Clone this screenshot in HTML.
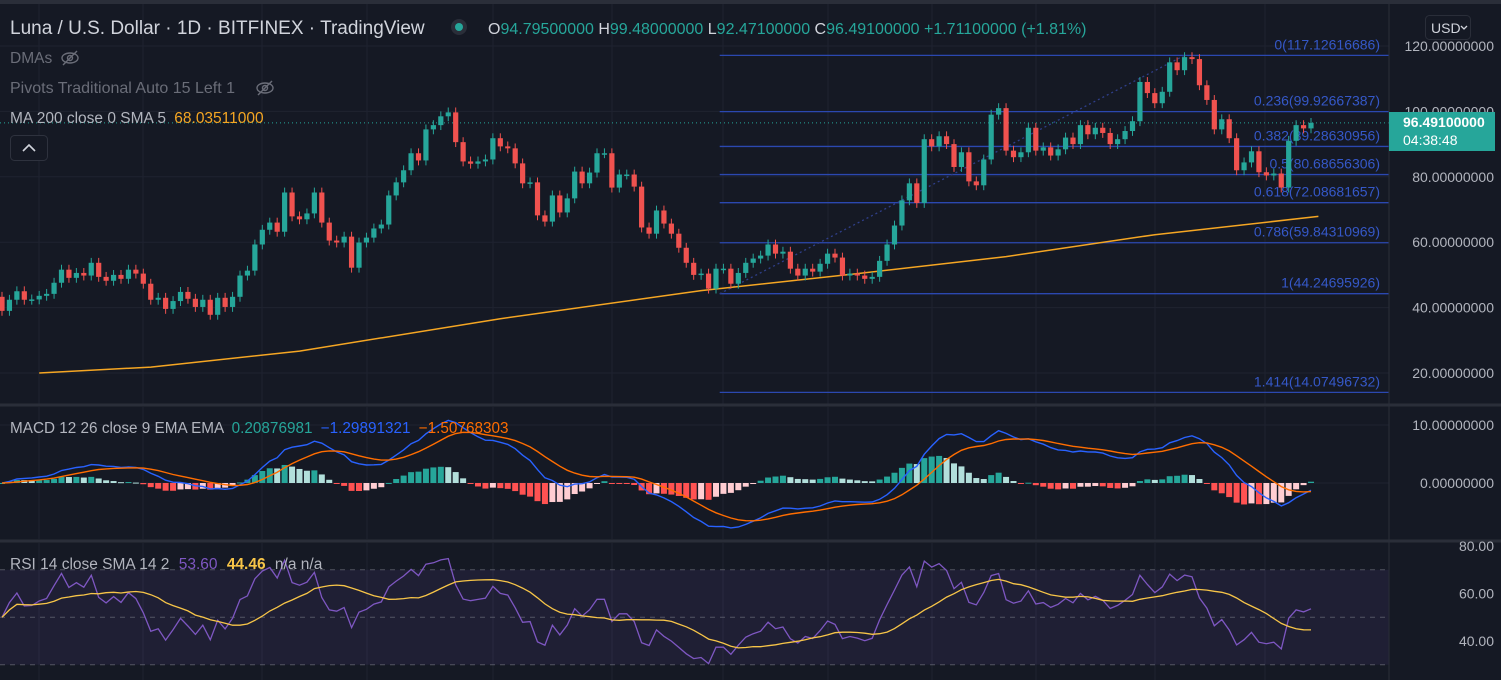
<!DOCTYPE html>
<html><head><meta charset="utf-8">
<style>
html,body{margin:0;padding:0;background:#151924;}
svg{display:block;font-family:"Liberation Sans",sans-serif;}
</style></head>
<body>
<svg id="chart" width="1501" height="680" viewBox="0 0 1501 680">
<rect x="0" y="0" width="1501" height="680" fill="#151924"/>
<g id="grid"></g>
<g id="main"></g>
<g id="macd"></g>
<g id="rsi"></g>
<line x1="1389" y1="0" x2="1389" y2="680" stroke="#2a2e39"/>
<line x1="0" y1="405" x2="1501" y2="405" stroke="#2a2e39" stroke-width="3"/>
<line x1="0" y1="541" x2="1501" y2="541" stroke="#2a2e39" stroke-width="3"/>
<rect x="0" y="0" width="1501" height="4" fill="#2a2e39"/>
<g id="axis"></g>

<g>
<text x="10" y="34" font-size="19" fill="#d1d4dc">Luna / U.S. Dollar · 1D · BITFINEX · TradingView</text>
<circle cx="459" cy="27" r="8" fill="#2a2e39"/>
<circle cx="459" cy="27" r="4" fill="#26a69a"/>
<text x="488" y="34" font-size="16" fill="#26a69a"><tspan fill="#d1d4dc">O</tspan>94.79500000 <tspan fill="#d1d4dc">H</tspan>99.48000000 <tspan fill="#d1d4dc">L</tspan>92.47100000 <tspan fill="#d1d4dc">C</tspan>96.49100000 +1.71100000 (+1.81%)</text>
</g>
<g>
<text x="10" y="63" font-size="15.5" fill="#6a6d78">DMAs</text>
<g stroke="#6a6d78" fill="none" stroke-width="1.4"><ellipse cx="70" cy="58" rx="8" ry="5"/><circle cx="70" cy="58" r="2.5"/><line x1="63" y1="65" x2="77" y2="51"/></g>
<text x="10" y="93" font-size="16" fill="#6a6d78">Pivots Traditional Auto 15 Left 1</text>
<g stroke="#6a6d78" fill="none" stroke-width="1.4"><ellipse cx="265" cy="88" rx="8" ry="5"/><circle cx="265" cy="88" r="2.5"/><line x1="258" y1="95" x2="272" y2="81"/></g>
<text x="10" y="123" font-size="15.5" fill="#b2b5be">MA 200 close 0 SMA 5 <tspan fill="#f5a623" dx="4">68.03511000</tspan></text>
<rect x="10.5" y="135.5" width="37" height="25" rx="4" fill="#151924" stroke="#2e323e"/>
<polyline points="23,151 29,145 35,151" fill="none" stroke="#d1d4dc" stroke-width="1.6"/>
<text x="10" y="433" font-size="15.3" fill="#b2b5be">MACD 12 26 close 9 EMA EMA <tspan fill="#26a69a" dx="4">0.20876981</tspan> <tspan fill="#2962ff" dx="4">−1.29891321</tspan> <tspan fill="#ff6d00" dx="4">−1.50768303</tspan></text>
<text x="10" y="569" font-size="15.5" fill="#b2b5be">RSI 14 close SMA 14 2 <tspan fill="#7e57c2" dx="5">53.60</tspan> <tspan fill="#f7c548" font-weight="bold" dx="5">44.46</tspan> <tspan dx="5">n/a n/a</tspan></text>
</g>
<g>
<rect x="1425.5" y="15.5" width="45" height="24" rx="4" fill="#151924" stroke="#2a2e39"/>
<text x="1431" y="33" font-size="14" fill="#d1d4dc">USD</text>
<polyline points="1461,26 1464,29 1467,26" fill="none" stroke="#d1d4dc" stroke-width="1.3"/>
</g>
<g>
<rect x="1389" y="112" width="106" height="39" fill="#26a69a"/>
<text x="1403" y="127" font-size="14" font-weight="bold" fill="#ffffff">96.49100000</text>
<text x="1403" y="145" font-size="14" fill="#ffffff">04:38:48</text>
</g>
</svg>
<script>
// ---- data ----
const open0 = 43.3;
const closes = [39,42.4,45,42.4,42.5,43.6,44.2,47.6,51.6,49.1,50.6,49.8,53.7,49.4,48.2,50,48.8,51.6,50.4,47.3,42.4,43,39.6,42,44.8,42.7,40.2,42.4,37.8,43,40.2,43.3,49.8,51.3,59.3,63.8,66,63.2,75.2,67.9,67,68.8,75.2,66,60.5,59.9,61.7,52.2,59.9,61.4,64.2,65.4,74.3,78.3,82,87.2,85,94.5,95.8,98.5,99.7,90.6,
84.7,84,84.7,85.3,91.8,89.3,88.7,84.1,78,78.3,68.2,66.3,74.3,69.1,73.4,81.6,78,81.3,87.2,87.2,76.7,80.7,80.7,77,64.5,62.6,69.7,65.7,62.6,58.3,53.7,50,50.4,45.8,51.9,51.9,47.3,50.6,53.7,55,55.9,59.3,56.5,57.1,51.9,49.8,51.9,51,53.4,56.5,55.3,49.8,50.4,49.8,48.8,49.4,54.3,59.3,65.1,
72.8,78,72,91.5,89.3,92.4,90,83,87.5,78.6,77.4,85.3,99,101,88,86,87.5,95,88,89,86.5,88.4,92,90,95.8,93,95,93.4,90,91.5,94,97,109,105.6,102.5,106,115,112.6,116.6,116,108,103.5,94.5,97.6,91.8,82,84.4,87.8,81.4,80.4,81,76.7,91,95.8,94.8,96.49];
const maIdx = [5,20,40,67,94,115,135,155,177];
const maVal = [20.0,21.8,26.7,36.6,45.2,50.4,55.6,62.3,67.9];
const fibRatios = ["0","0.236","0.382","0.5","0.618","0.786","1","1.414"];
const fibPrices = [117.12616686,99.92667387,89.28630956,80.68656306,72.08681657,59.84310969,44.24695926,14.07496732];
const fibStartIdx = 96.5;
const trendFrom = [96.5,44.25];
const trendTo = [159,117.13];
const priceTicks = [120,100,80,60,40,20];
const macdTicks = [10,0];
const rsiTicks = [80,60,40];
const lastPrice = 96.491;
const gridX = [39,143,262,367,493,612,723,828,932,1036,1155,1265];

// ---- scales ----
const NS="http://www.w3.org/2000/svg";
const N = closes.length;
const step = (1311-2)/(N-1);
const xOf = i => 2 + i*step;
const yP = p => 46 + (120-p)*3.27;
const yM = v => 483 - v*5.8;
const yR = v => 593.5 - (v-60)*2.375;
function mk(parent, tag, attrs){const e=document.createElementNS(NS,tag);for(const k in attrs)e.setAttribute(k,attrs[k]);parent.appendChild(e);return e;}
const grid=document.getElementById('grid'), main=document.getElementById('main'), macdG=document.getElementById('macd'), rsiG=document.getElementById('rsi'), axis=document.getElementById('axis');

// grid
gridX.forEach(x=>{[[4,404],[407,539],[543,680]].forEach(r=>{const l=mk(grid,'line',{x1:x,x2:x,y1:r[0],y2:r[1],stroke:'#1f2330'});

});});
priceTicks.forEach(p=>{const l=mk(grid,'line',{x1:0,x2:1389,y1:yP(p),y2:yP(p),stroke:'#1f2330'});


const t=mk(axis,'text',{x:1494,y:yP(p)+5,'font-size':14,fill:'#b2b5be','text-anchor':'end'});t.textContent=p.toFixed(8);

});
macdTicks.forEach(v=>{const l=mk(grid,'line',{x1:0,x2:1389,y1:yM(v),y2:yM(v),stroke:'#1f2330'});


const t=mk(axis,'text',{x:1494,y:yM(v)+5,'font-size':14,fill:'#b2b5be','text-anchor':'end'});t.textContent=v.toFixed(8);

});
rsiTicks.forEach(v=>{const t=mk(axis,'text',{x:1494,y:yR(v)+5,'font-size':14,fill:'#b2b5be','text-anchor':'end'});t.textContent=v.toFixed(2);

});

// fib levels
const fx0 = xOf(fibStartIdx);
fibPrices.forEach((p,k)=>{const l=mk(main,'line',{x1:fx0,x2:1389,y1:yP(p),y2:yP(p),stroke:'#2b48b0','stroke-width':1.3});


const t=mk(main,'text',{x:1380,y:yP(p)-6,'font-size':14,fill:'#3558c8','text-anchor':'end'});t.textContent=fibRatios[k]+'('+p.toFixed(8)+')';

});
const tl=mk(main,'line',{x1:xOf(trendFrom[0]),y1:yP(trendFrom[1]),x2:xOf(trendTo[0]),y2:yP(trendTo[1]),stroke:'#2f3f8a','stroke-width':1.3,'stroke-dasharray':'2 3'});



// last price line
const lp=mk(main,'line',{x1:0,x2:1389,y1:yP(lastPrice),y2:yP(lastPrice),stroke:'#26a69a','stroke-dasharray':'1 3'});



// MA200
let mp='';maIdx.forEach((i,k)=>{mp+=(k?'L':'M')+xOf(i).toFixed(1)+','+yP(maVal[k]).toFixed(1);});
const ma=mk(main,'path',{d:mp,fill:'none',stroke:'#f5a623','stroke-width':1.5});



// candles
for(let i=0;i<N;i++){
  const o = i===0?open0:closes[i-1], c=closes[i];
  const up=c>=o, col=up?'#26a69a':'#f0524f';
  const hi=Math.max(o,c)+1.5, lo=Math.min(o,c)-1.5, x=xOf(i);
  const g=mk(main,'g',{});
  
  
  mk(g,'line',{x1:x,x2:x,y1:yP(hi),y2:yP(lo),stroke:col,'stroke-width':1});
  const top=yP(Math.max(o,c)), h=Math.max(1.5,yP(Math.min(o,c))-top);
  mk(g,'rect',{x:x-2.6,y:top,width:5.2,height:h,fill:col});
}

// MACD computed from closes
function emaArr(src,n){const k=2/(n+1);const out=[];let e=src[0];src.forEach((v,i)=>{e=i?v*k+e*(1-k):v;out.push(e);});return out;}
const e12=emaArr(closes,12), e26=emaArr(closes,26);
const macdLine=e12.map((v,i)=>v-e26[i]);
const sig=emaArr(macdLine,9);
const hist=macdLine.map((v,i)=>v-sig[i]);
for(let i=0;i<N;i++){
  const h=hist[i], prev=i?hist[i-1]:0;
  const col = h>=0 ? (h>=prev?'#26a69a':'#b2dfdb') : (h<prev?'#ff5252':'#ffcdd2');
  const y0=yM(0), y1=yM(h);
  const r=mk(macdG,'rect',{x:xOf(i)-3,y:Math.min(y0,y1),width:6,height:Math.max(1,Math.abs(y1-y0)),fill:col});
  
  
}
function pathOf(arr,yf){return arr.map((v,i)=>(i?'L':'M')+xOf(i).toFixed(1)+','+yf(v).toFixed(1)).join('');}
const ml=mk(macdG,'path',{d:pathOf(macdLine,yM),fill:'none',stroke:'#2962ff','stroke-width':1.4});


const sl=mk(macdG,'path',{d:pathOf(sig,yM),fill:'none',stroke:'#ff6d00','stroke-width':1.4});



// RSI computed from closes
const rsi=[];let ag=1,al=1;
for(let i=0;i<N;i++){const d=i?closes[i]-closes[i-1]:0;ag=(ag*13+Math.max(d,0))/14;al=(al*13+Math.max(-d,0))/14;rsi.push(100-100/(1+ag/al));}
const rsiSma=rsi.map((v,i)=>{const s=rsi.slice(Math.max(0,i-13),i+1);return s.reduce((a,b)=>a+b,0)/s.length;});
const band=mk(rsiG,'rect',{x:0,y:yR(70),width:1389,height:yR(30)-yR(70),fill:'rgba(126,87,194,0.10)'});


[70,50,30].forEach(v=>{const l=mk(rsiG,'line',{x1:0,x2:1389,y1:yR(v),y2:yR(v),stroke:'#787b86','stroke-dasharray':'5 5','stroke-opacity':0.6});

});
const rl=mk(rsiG,'path',{d:pathOf(rsi,yR),fill:'none',stroke:'#7e57c2','stroke-width':1.3});


const rs=mk(rsiG,'path',{d:pathOf(rsiSma,yR),fill:'none',stroke:'#f7c548','stroke-width':1.3});


</script>
</body></html>
